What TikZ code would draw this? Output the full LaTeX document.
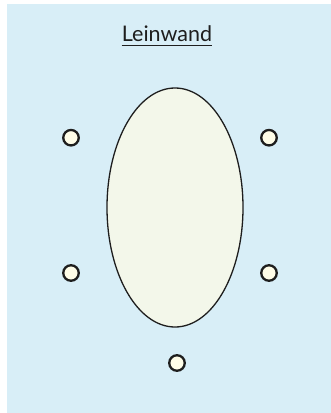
\documentclass[tikz,border=0pt]{standalone}
\usepackage{fontspec}
\setmainfont{Lato}
\usetikzlibrary{shapes.geometric}
\definecolor{canvasbg}{RGB}{216,238,247}
\definecolor{ellfill}{RGB}{243,247,234}
\definecolor{dotfill}{RGB}{255,253,232}
\definecolor{linecol}{RGB}{30,30,30}
\tikzset{
  port/.style={circle, draw=linecol, fill=dotfill, line width=2.3pt, minimum size=15.5pt, inner sep=0pt},
  mainell/.style={ellipse, draw=linecol, fill=ellfill, line width=1.3pt, minimum width=136pt, minimum height=239pt, inner sep=0pt},
  title/.style={font=\fontsize{21.5pt}{24pt}\selectfont, text=linecol, inner sep=0pt}
}
\begin{document}
\begin{tikzpicture}[x=1pt,y=-1pt]
\useasboundingbox (0,0) rectangle (331,413);
\fill[canvasbg] (7,4) rectangle (331,413);
\node[title, anchor=base] (t) at (167,41.7) {Leinwand};
\draw[linecol, line width=1.4pt] ([yshift=-4pt]t.base west) -- ([yshift=-4pt]t.base east);
\node[mainell] (e) at (175,207.5) {};
\node[port] (p1) at (71,137.7) {};
\node[port] (p2) at (269,137.7) {};
\node[port] (p3) at (71,273) {};
\node[port] (p4) at (269,273) {};
\node[port] (p5) at (177,363) {};
\end{tikzpicture}
\end{document}
